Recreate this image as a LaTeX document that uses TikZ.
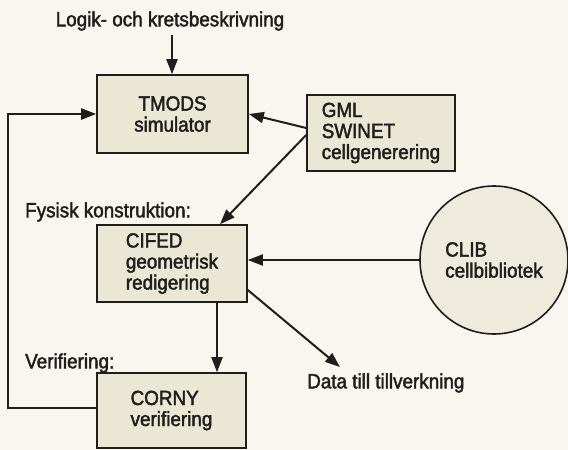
\documentclass[tikz,border=0pt]{standalone}
\usepackage{fontspec}
\setmainfont{Liberation Sans}[FakeBold=2,FakeStretch=0.92]
\usetikzlibrary{arrows.meta}
\definecolor{bg}{RGB}{248,246,238}
\definecolor{boxfill}{RGB}{234,231,212}
\definecolor{circfill}{RGB}{238,235,220}
\definecolor{ink}{RGB}{30,30,30}
\begin{document}
\begin{tikzpicture}[x=1pt,y=-1pt,
  every node/.style={font=\fontsize{20.5}{21}\selectfont, text=ink, inner sep=0pt},
  blk/.style={draw=ink, line width=1.6pt, fill=boxfill, align=left, anchor=center},
  conn/.style={draw=ink, line width=2pt, -{Triangle[length=15pt,width=11pt]}},
  plain/.style={draw=ink, line width=2pt}]
\fill[bg] (0,0) rectangle (568,450);
\useasboundingbox (0,0) rectangle (568,450);
% labels
\node (title) at (170,21) {Logik- och kretsbeskrivning};
\node[anchor=west] (fysisk) at (25,212) {Fysisk konstruktion:};
\node[anchor=west] (verif) at (25,363) {Verifiering:};
\node[anchor=west] (data) at (307,383) {Data till tillverkning};
% boxes
\node[blk, align=center, minimum width=151pt, minimum height=78pt] (tmods) at (172.5,114) {TMODS\\simulator};
\node[blk, minimum width=148pt, minimum height=76pt] (gml) at (381,133) {GML\\SWINET\\cellgenerering};
\node[blk, minimum width=150pt, minimum height=77pt] (cifed) at (172,263.5) {CIFED\\geometrisk\\redigering};
\node[blk, minimum width=149pt, minimum height=75pt] (corny) at (171.5,410.5) {CORNY\\verifiering};
\node[draw=ink, line width=1.6pt, fill=circfill, circle, minimum size=148pt, align=left] (clib) at (494,260) {CLIB\\cellbibliotek};
% connectors
\coordinate (tin) at (172,35);
\draw[conn] (tin) -- (tmods.north -| tin);
\draw[conn] (gml.west |- 0,128) -- (tmods.east |- 0,114);
\draw[conn] (gml.west |- 0,135) -- (cifed.north -| 220,0);
\draw[conn] (clib.west) -- (cifed.east |- clib.west);
\draw[conn] (cifed.south -| 217,0) -- (corny.north -| 217,0);
\coordinate (dtip) at (340,367);
\draw[conn] (cifed.east |- 0,290) -- (dtip);
\coordinate (lb) at (8,408);
\coordinate (lt) at (8,114);
\draw[conn] (corny.west |- lb) -- (lb) -- (lt) -- (tmods.west |- lt);
\end{tikzpicture}
\end{document}
